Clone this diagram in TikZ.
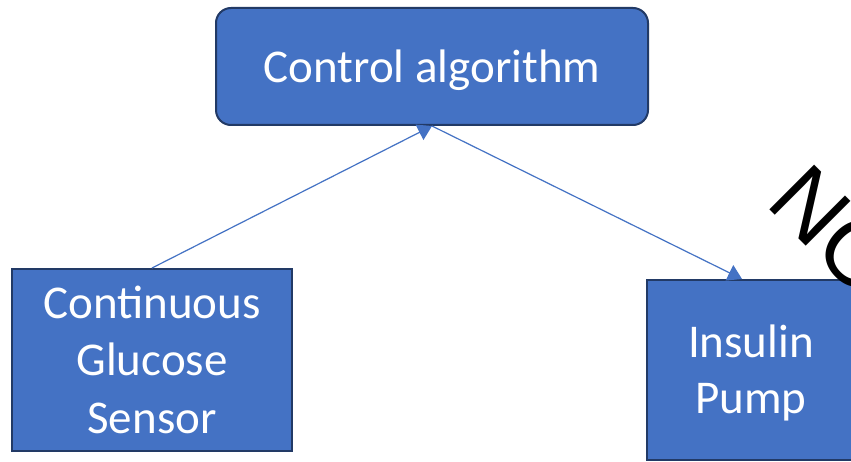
\documentclass[tikz,border=0pt]{standalone}
\usepackage{fontspec}
\setmainfont{Carlito}
\newfontfamily\wmfont{Liberation Sans}
\usetikzlibrary{arrows.meta,calc}
\definecolor{boxblue}{HTML}{4472C4}
\definecolor{boxedge}{HTML}{223A66}
\tikzset{
  blockbox/.style={draw=boxedge, line width=2pt, fill=boxblue, inner sep=0pt},
  boxtext/.style={text=white, inner sep=0pt, anchor=base, font=\fontsize{47}{57}\selectfont},
  flow/.style={draw=boxblue, line width=1.2pt, -{Triangle[length=14pt,width=17pt]}},
  watermark/.style={text=black, inner sep=0pt, anchor=base west, rotate=-45, font=\wmfont\fontsize{92}{100}\selectfont}
}
\begin{document}
\begin{tikzpicture}[x=1pt,y=1pt]
\useasboundingbox (0,0) rectangle (851,461);
\clip (0,0) rectangle (851,461);
\fill[white] (0,0) rectangle (851,461);
% boxes
\node[blockbox, rounded corners=15pt, minimum width=432pt, minimum height=117pt] (ctrl) at (432,394.5) {};
\node[blockbox, minimum width=280pt, minimum height=182pt] (cgs) at (152,101) {};
\node[blockbox, minimum width=210pt, minimum height=180pt] (pump) at (752,91) {};
% texts
\node[boxtext] (t1) at (432,378) {Control algorithm};
\node[boxtext] (t2) at (152,143) {Continuous};
\node[boxtext] (t3) at (152,86) {Glucose};
\node[boxtext] (t4) at (152,28) {Sensor};
\node[boxtext] (t5) at (751,104) {Insulin};
\node[boxtext] (t6) at (751,48) {Pump};
% connectors
\draw[flow] (cgs.north) -- (ctrl.south);
\draw[flow] (ctrl.south) -- ([xshift=-10pt]pump.north);
% watermark
\node[watermark] (wm) at (764,257) {NO};
\end{tikzpicture}
\end{document}
